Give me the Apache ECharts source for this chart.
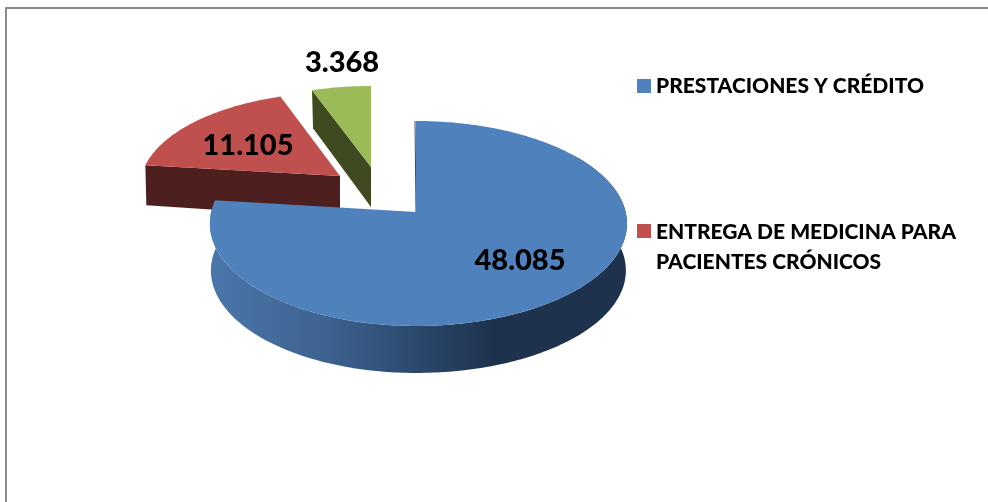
<!DOCTYPE html>
<html>
<head>
<meta charset="utf-8">
<style>
  html, body { margin: 0; padding: 0; background: #fff; }
  #chart { width: 988px; height: 502px; }
</style>
</head>
<body>
<div id="chart"></div>
<script src="https://cdn.jsdelivr.net/npm/echarts@6/dist/echarts.min.js"></script>
<script>
// data
var categories = ['PRESTACIONES Y CRÉDITO', 'ENTREGA DE MEDICINA PARA\nPACIENTES CRÓNICOS', 'OTROS']
var values = [48085, 11105, 3368]

var topColors = ['#4f81bd', '#c0504d', '#9bbb59']
var wallColors = ['#2e4a70', '#4d1f1f', '#3f4a20']

// fake 3d: a circle on a tilted plane, far side smaller than near side
var persp = 0.112
var radiusX = 209
var radiusY = 101.2
var slices = [
  { ax: 416, ay: 212, sx: 1.003, sxLeft: 0.98, sy: 1, depth: 47, labelX: 520, labelY: 261 },
  { ax: 340, ay: 176, sx: 0.95, sxLeft: 0.95, sy: 0.92, depth: 42, labelX: 248, labelY: 146 },
  { ax: 371, ay: 167, sx: 0.94, sxLeft: 0.94, sy: 0.89, depth: 40, labelX: 342, labelY: 63 }
]

var total = values.reduce(function(a, b) { return a + b }, 0)

function sliceAngles(i) {
  var before = 0
  for (var k = 0; k < i; k++) before += values[k]
  return [before / total * Math.PI * 2, (before + values[i]) / total * Math.PI * 2]
}

function rimPoint(s, theta, shrink, down) {
  var u = Math.sin(theta)
  var v = Math.cos(theta)
  var d = 1 / (1 + persp * v)
  return [
    s.ax + radiusX * u * d * (u < 0 ? s.sxLeft : s.sx) * shrink,
    s.ay - radiusY * v * d * s.sy + down
  ]
}

function rimPoints(s, from, to, shrink, down) {
  var pts = []
  var steps = Math.max(8, Math.ceil((to - from) * 60))
  for (var i = 0; i <= steps; i++) {
    pts.push(rimPoint(s, from + (to - from) * i / steps, shrink, down))
  }
  return pts
}

function labelText(v) {
  return String(v).replace(/\B(?=(\d{3})+$)/g, '.')
}

function renderSlice(i) {
  return function(params, api) {
    var s = slices[i]
    var ang = sliceAngles(i)
    var children = []
    if (i === 0) {
      // outer wall of the big slice
      var from = Math.PI * 0.3
      var upper = rimPoints(s, from, ang[1], 1, 0)
      var lower = rimPoints(s, from, ang[1], 0.995, s.depth)
      children.push({
        type: 'polygon',
        shape: { points: upper.concat(lower.reverse()) },
        style: {
          fill: {
            type: 'linear', x: 212, y: 0, x2: 626, y2: 0, global: true,
            colorStops: [
              { offset: 0, color: '#4a76a9' },
              { offset: 0.28, color: '#3d6290' },
              { offset: 0.48, color: '#2d4a70' },
              { offset: 0.68, color: '#1e324d' },
              { offset: 1, color: '#1e324d' }
            ]
          }
        }
      })
      // the sliver of inner wall on the cut
      var inner = rimPoint(s, 0, 1, 0)
      children.push({
        type: 'line',
        shape: { x1: s.ax, y1: s.ay, x2: inner[0] - 1, y2: inner[1] },
        style: { stroke: wallColors[0], lineWidth: 1 }
      })
    } else {
      // radial face turned to the viewer
      var corner = rimPoint(s, ang[0], 1, 0)
      children.push({
        type: 'polygon',
        shape: {
          points: [
            corner,
            [s.ax, s.ay],
            [s.ax, s.ay + s.depth],
            [corner[0] + 1, corner[1] + s.depth - 2]
          ]
        },
        style: { fill: wallColors[i] }
      })
    }
    var face = [[s.ax, s.ay]].concat(rimPoints(s, ang[0], ang[1], 1, 0))
    children.push({
      type: 'polygon',
      shape: { points: face },
      style: { fill: topColors[i] }
    })
    children.push({
      type: 'text',
      z2: 10,
      x: s.labelX,
      y: s.labelY,
      style: {
        text: labelText(api.value(0)),
        fill: '#000',
        font: '900 29px Lato, "Open Sans", sans-serif',
        align: 'center',
        verticalAlign: 'middle'
      }
    })
    return { type: 'group', children: children }
  }
}

var chart = echarts.init(document.getElementById('chart'))

var legendText = { color: '#000', fontFamily: 'Lato', fontWeight: 900, fontSize: 21, lineHeight: 30 }

chart.setOption({
  animation: false,
  backgroundColor: '#fff',
  graphic: [
    {
      type: 'rect',
      silent: true,
      shape: { x: 6, y: 8, width: 1100, height: 600 },
      style: { fill: 'none', stroke: '#8a8a8a', lineWidth: 2 }
    }
  ],
  legend: [
    {
      left: 637,
      top: 71,
      padding: 0,
      itemWidth: 14,
      itemHeight: 14,
      itemGap: 0,
      icon: 'rect',
      selectedMode: false,
      textStyle: legendText,
      data: [categories[0]]
    },
    {
      left: 637,
      top: 217,
      padding: 0,
      itemWidth: 14,
      itemHeight: 60,
      itemGap: 0,
      // square sits on the first line of the two line name
      icon: 'path://M0,7H14V21H0Z M0,0H0.01 M0,60H0.01',
      selectedMode: false,
      textStyle: legendText,
      data: [categories[1]]
    }
  ],
  series: [
    { name: categories[1], type: 'custom', z: 2, coordinateSystem: 'none', itemStyle: { color: topColors[1] }, renderItem: renderSlice(1), data: [values[1]] },
    { name: categories[2], type: 'custom', z: 2, coordinateSystem: 'none', itemStyle: { color: topColors[2] }, renderItem: renderSlice(2), data: [values[2]] },
    { name: categories[0], type: 'custom', z: 3, coordinateSystem: 'none', itemStyle: { color: topColors[0] }, renderItem: renderSlice(0), data: [values[0]] }
  ]
})
</script>
</body>
</html>
